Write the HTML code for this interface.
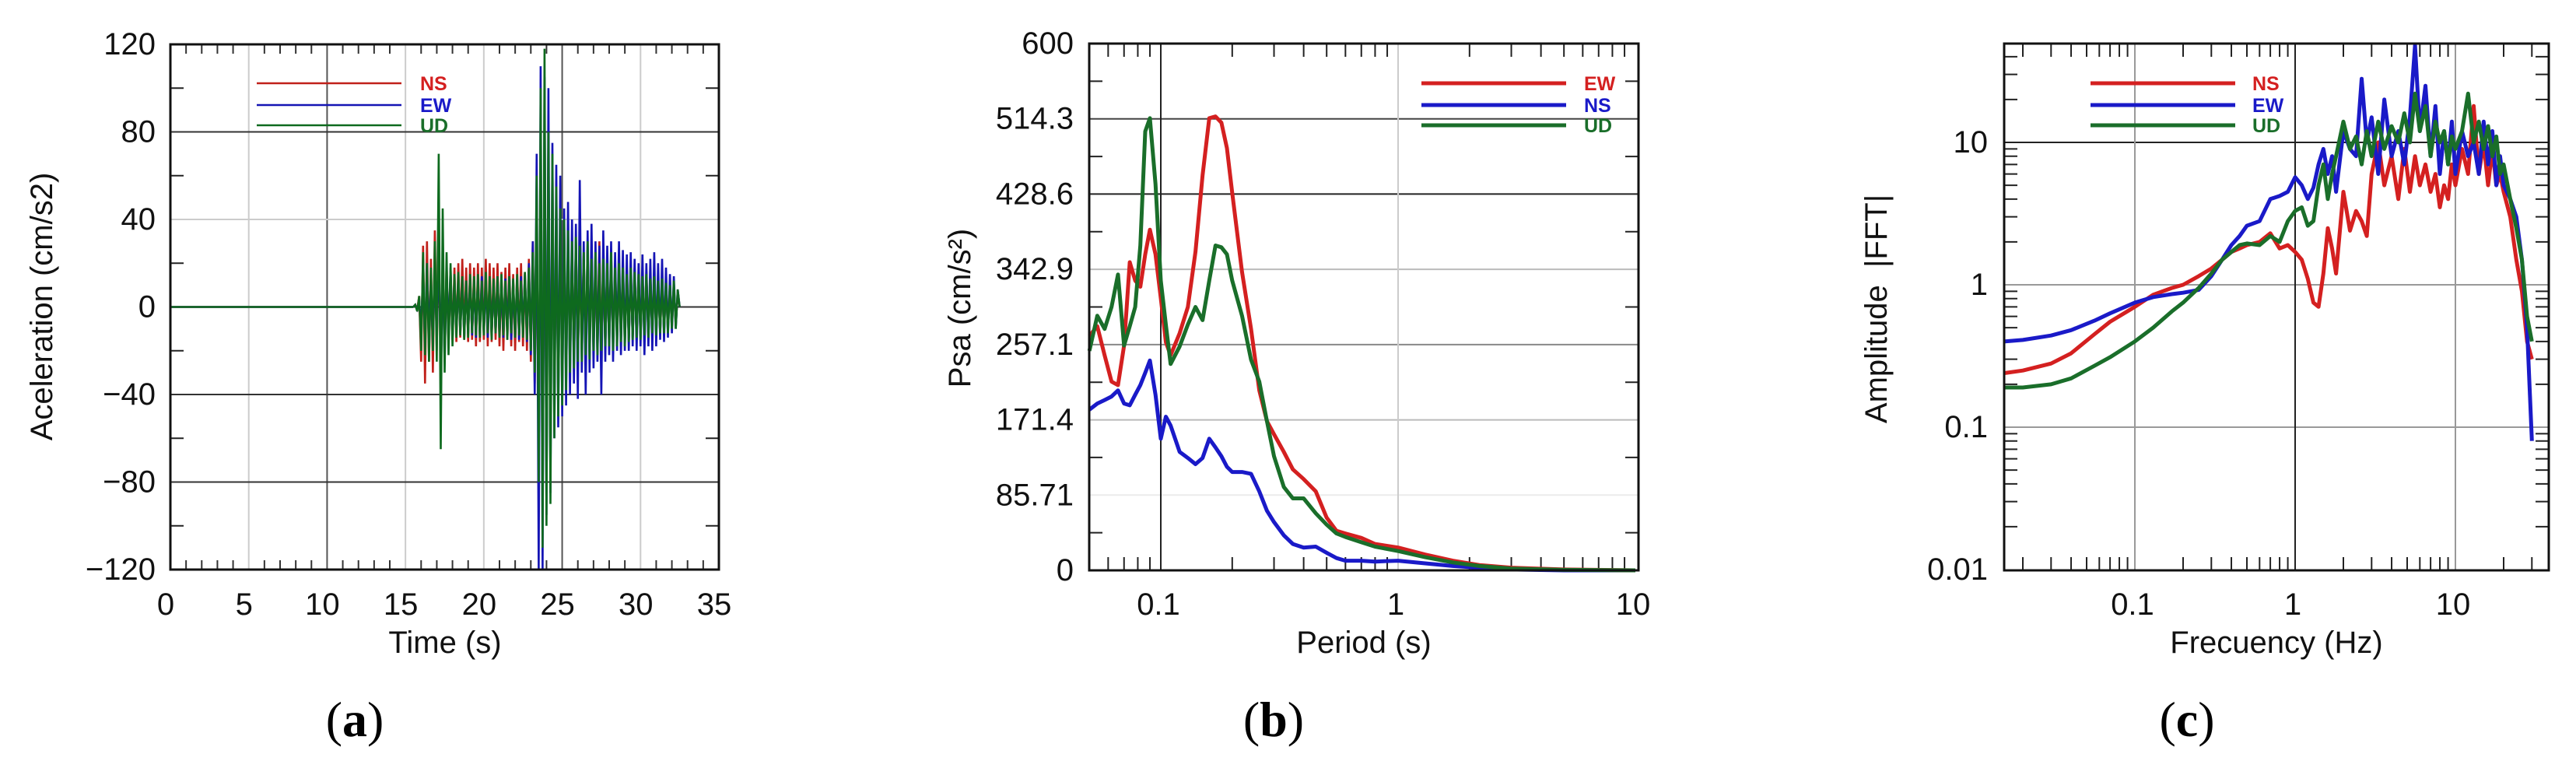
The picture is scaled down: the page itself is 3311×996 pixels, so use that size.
<!DOCTYPE html>
<html><head><meta charset="utf-8">
<style>
html,body{margin:0;padding:0;background:#fff;}
svg{display:block;font-family:"Liberation Sans",sans-serif;}
</style></head>
<body>
<svg id="fig" width="3311" height="996" viewBox="0 0 3311 996" xmlns="http://www.w3.org/2000/svg"></svg>
<script>
// ---------- Panel (a) data: acceleration time histories ----------
const aT0 = 15.5, aDt = 0.125;
const aNS = [0,1,-1,5,-25,28,-35,30,-25,22,
-30,35,-20,28,-25,18,-22,20,-18,16,
-15,18,-16,20,-14,22,-15,18,-16,20,
-15,18,-18,20,-16,18,-15,22,-18,20,
-16,18,-15,20,-18,16,-20,18,-15,20,
-18,15,-20,18,-16,20,-18,16,-20,22,
-25,30,-35,45,-60,60,-70,55,-50,45,
-40,35,-35,30,-30,28,-25,30,-25,28,
-20,20,-22,30,-25,22,-20,25,-22,18,
-15,25,-20,18,-15,30,-25,22,-18,20,
-15,22,-18,20,-15,18,-16,20,-15,18,
-15,16,-14,18,-15,16,-14,15,-13,16,
-14,15,-12,14,-12,13,-12,12,-11,12,
-10,11,-10,10,-8,6,0];
const aEW = [0,1,-1,3,-10,15,-18,20,-15,12,
-18,20,-15,25,-20,18,-25,15,-12,18,
-15,12,-12,14,-12,13,-14,12,-12,14,
-13,12,-14,13,-12,14,-12,13,-14,12,
-13,12,-12,14,-13,12,-14,13,-12,14,
-15,12,-14,13,-15,14,-12,15,-16,20,
-22,30,-40,70,-120,110,-120,105,-95,100,
-85,75,-60,65,-55,60,-50,45,-45,48,
-40,40,-35,38,-42,58,-30,30,-40,35,
-30,38,-28,30,-25,28,-40,35,-25,28,
-22,30,-25,25,-20,30,-22,26,-20,24,
-20,25,-18,22,-20,20,-18,24,-22,20,
-18,22,-20,25,-18,20,-15,22,-16,18,
-14,15,-12,14,-10,8,0];
const aUD = [0,1,-2,5,-20,25,-22,20,-25,18,
-20,30,-25,70,-65,45,-30,25,-22,20,
-18,15,-14,16,-13,14,-15,12,-14,15,
-12,14,-13,15,-14,12,-13,16,-12,14,
-15,13,-12,14,-14,15,-13,12,-15,14,
-12,13,-14,15,-13,12,-14,16,-15,18,
-20,25,-30,60,-80,100,-110,118,-100,80,
-90,70,-60,55,-50,45,-45,40,-38,35,
-30,30,-28,32,-25,28,-25,25,-22,30,
-24,22,-20,25,-22,20,-20,22,-18,20,
-18,25,-20,18,-18,20,-16,18,-18,15,
-16,18,-15,16,-14,15,-15,14,-13,15,
-14,13,-12,14,-13,12,-12,13,-12,11,
-12,10,-10,12,-10,8,0];
const aXTicks = [0,5,10,15,20,25,30,35];
const aYTicks = [-120,-80,-40,0,40,80,120];

// ---------- Panel (b) data: response spectra ----------
const bPeriod = [0.05,0.054,0.058,0.062,0.066,0.07,0.074,0.078,0.082,0.086,0.09,0.095,0.1,0.105,0.11,0.12,0.13,0.14,0.15,0.16,0.17,0.18,0.19,0.2,0.22,0.24,0.26,0.28,0.3,0.33,0.36,0.4,0.45,0.5,0.55,0.6,0.7,0.8,1,1.3,1.7,2.2,3,5,10];
const bEW = [267,278,245,215,211,256,351,330,323,360,388,360,310,260,245,270,300,363,450,515,517,510,481,430,340,275,205,170,155,135,115,104,90,60,45,42,37,30,26,18,11,6,3,1,0];
const bNS = [183,190,194,198,205,190,188,200,211,225,239,200,150,175,165,135,128,121,128,150,140,130,118,112,112,110,90,68,55,40,30,26,27,20,14,11,11,10,11,8,5,3,1,0,0];
const bUD = [250,290,275,300,337,256,278,300,370,500,515,440,330,280,235,255,280,300,285,330,370,368,360,330,290,240,215,170,130,95,82,82,65,52,42,38,32,27,22,15,9,5,2,0.5,0];
const bYTicks = [0,85.71,171.4,257.1,342.9,428.6,514.3,600];
const bXTicks = [0.1,1,10];

// ---------- Panel (c) data: Fourier amplitude spectra ----------
const cFreq = [0.0155,0.02,0.03,0.04,0.056,0.07,0.1,0.13,0.17,0.2,0.25,0.3,0.35,0.4,0.45,0.5,0.6,0.7,0.8,0.9,1.0,1.1,1.2,1.3,1.4,1.5,1.6,1.7,1.8,2.0,2.2,2.4,2.6,2.8,3.0,3.3,3.6,4.0,4.4,4.8,5.2,5.6,6.0,6.5,7,7.5,8,8.5,9,9.5,10,11,12,13,14,15,16,17,18,19,20,22,24,26,28,30];
const cNS = [0.24,0.25,0.28,0.33,0.45,0.55,0.7,0.85,0.95,1.0,1.15,1.3,1.5,1.7,1.8,1.9,2.0,2.3,1.8,1.9,1.7,1.5,1.1,0.75,0.7,1.2,2.5,1.8,1.2,4.5,2.4,3.3,2.8,2.2,6,10,5,8,4,9,4.5,8,5,7,4.5,6,3.5,5,4,7,5,9,6,18,6,10,5,9,5,6,4.5,3,1.5,0.9,0.4,0.3];
const cEW = [0.40,0.41,0.44,0.48,0.56,0.63,0.75,0.82,0.86,0.88,0.92,1.15,1.5,1.9,2.2,2.6,2.8,4.0,4.2,4.5,5.7,5.0,4.0,4.8,7,9,6,8,4.5,12,9,8,28,10,15,6,20,8,12,7,15,48,12,25,8,18,6,12,7,14,6,12,8,10,6,14,7,12,5,8,5,4,3,1.5,0.5,0.08];
const cUD = [0.19,0.19,0.2,0.22,0.27,0.31,0.4,0.5,0.65,0.75,0.95,1.2,1.5,1.7,1.9,1.95,1.9,2.2,2.0,2.8,3.3,3.5,2.6,2.8,5,7,4,6,8,14,9,11,7,12,8,14,9,13,10,16,10,22,12,18,8,14,10,12,7,11,9,12,22,10,14,9,13,8,11,6,7,4,2.5,1.5,0.6,0.4];
const cYTicks = [0.01,0.1,1,10];
const cXTicks = [0.1,1,10];

const NS_SVG = "http://www.w3.org/2000/svg";
const svg = document.getElementById('fig');
function el(tag, attrs, parent){
  const e = document.createElementNS(NS_SVG, tag);
  for (const k in attrs) e.setAttribute(k, attrs[k]);
  (parent||svg).appendChild(e);
  return e;
}
const RED='#d42020', BLUE='#1a1ac8', GREEN='#1a6e2a';

// ================= Panel A =================
const A = {l:219, r:924, t:57, b:732};
const ax = v => A.l + (v-0)/35*(A.r-A.l);
const ay = v => A.b - (v+120)/240*(A.b-A.t);
const gA = el('g',{});  
aXTicks.forEach(v=>{ if(v>0&&v<35){ const g=el('line',{x1:ax(v),x2:ax(v),y1:A.t,y2:A.b,stroke:(v==10||v==25)?'#555':'#ccc','stroke-width':2},gA);   }});
aYTicks.forEach(v=>{ if(v>-120&&v<120){ const g=el('line',{x1:A.l,x2:A.r,y1:ay(v),y2:ay(v),stroke:(v==40)?'#ccc':'#333','stroke-width':2},gA);   }});
for(let v=1; v<35; v++){ if(v%5){ el('line',{x1:ax(v),x2:ax(v),y1:A.t,y2:A.t+12,stroke:'#333','stroke-width':2},gA); el('line',{x1:ax(v),x2:ax(v),y1:A.b,y2:A.b-12,stroke:'#333','stroke-width':2},gA);} }
for(let v=-100; v<120; v+=20){ if(v%40){ el('line',{x1:A.l,x2:A.l+17,y1:ay(v),y2:ay(v),stroke:'#222','stroke-width':2},gA); el('line',{x1:A.r,x2:A.r-17,y1:ay(v),y2:ay(v),stroke:'#222','stroke-width':2},gA);} }
function seriesA(arr,color,name){
  let d = `M${ax(0)},${ay(0)} L${ax(aT0)},${ay(0)}`;
  arr.forEach((v,i)=>{ d += ` L${ax(aT0+i*aDt).toFixed(1)},${ay(v).toFixed(1)}`; });
  const p = el('path',{d:d,fill:'none',stroke:color,'stroke-width':2.6,'stroke-linejoin':'miter'},gA);
   
}
seriesA(aNS,'#c0201a','series-ns');
seriesA(aEW,'#1414b4','series-ew');
seriesA(aUD,'#0e6a1e','series-ud');
el('rect',{x:A.l,y:A.t,width:A.r-A.l,height:A.b-A.t,fill:'none',stroke:'#111','stroke-width':3},gA);
aXTicks.forEach(v=>{ const t=el('text',{x:ax(v)-6,y:790,'font-size':40,'text-anchor':'middle',fill:'#111'},gA); t.textContent=v;   });
aYTicks.forEach(v=>{ const t=el('text',{x:200,y:ay(v)+13,'font-size':40,'text-anchor':'end',fill:'#111'},gA); t.textContent=(v<0?'\u2212'+(-v):v);   });

// ================= Panel B =================
const B = {l:1400, r:2106, t:56, b:733};
const bx = v => 1492 + (Math.log10(v)+1)*305;
const by = v => B.b - v/600*(B.b-B.t);
const gB = el('g',{});  
const bGridCol = {85.71:'#ececec',171.4:'#bbb',257.1:'#888',342.9:'#bbb',428.6:'#222',514.3:'#444'};
bYTicks.forEach(v=>{ if(v>0&&v<600){ const g=el('line',{x1:B.l,x2:B.r,y1:by(v),y2:by(v),stroke:bGridCol[v],'stroke-width':2},gB);   }});
[[0.1,'#222'],[1,'#ccc']].forEach(([v,c])=>{ const g=el('line',{x1:bx(v),x2:bx(v),y1:B.t,y2:B.b,stroke:c,'stroke-width':2},gB);   });
for(let k=0;k<7;k++){ const v=42.857+85.714*k; el('line',{x1:B.l,x2:B.l+17,y1:by(v),y2:by(v),stroke:'#222','stroke-width':2},gB); el('line',{x1:B.r,x2:B.r-17,y1:by(v),y2:by(v),stroke:'#222','stroke-width':2},gB); }
[0.01,0.1,1].forEach(dec=>{ for(let m=2;m<=9;m++){ const v=dec*m; const x=bx(v); if(x>B.l+2&&x<B.r-2){ el('line',{x1:x,x2:x,y1:B.t,y2:B.t+17,stroke:'#222','stroke-width':2},gB); el('line',{x1:x,x2:x,y1:B.b,y2:B.b-17,stroke:'#222','stroke-width':2},gB);} } });
function seriesB(arr,color,name){
  const d = arr.map((v,i)=>(i?'L':'M')+bx(bPeriod[i]).toFixed(1)+','+by(v).toFixed(1)).join(' ');
  const p = el('path',{d:d,fill:'none',stroke:color,'stroke-width':5,'stroke-linejoin':'round'},gB);
   
}
seriesB(bNS,BLUE,'series-ns');
seriesB(bEW,RED,'series-ew');
seriesB(bUD,GREEN,'series-ud');
el('rect',{x:B.l,y:B.t,width:B.r-B.l,height:B.b-B.t,fill:'none',stroke:'#111','stroke-width':3},gB);
bXTicks.forEach(v=>{ const t=el('text',{x:bx(v)-3,y:790,'font-size':40,'text-anchor':'middle',fill:'#111'},gB); t.textContent=v;   });
bYTicks.forEach(v=>{ const t=el('text',{x:1380,y:by(v)+13,'font-size':40,'text-anchor':'end',fill:'#111'},gB); t.textContent=v;   });

// ================= Panel C =================
const C = {l:2576, r:3276, t:56, b:733};
const cx = v => 2950 + Math.log10(v)*206;
const cy = v => 366 - Math.log10(v)*183;
const gC = el('g',{});  
[[10,'#222'],[1,'#999'],[0.1,'#999']].forEach(([v,c])=>{ const g=el('line',{x1:C.l,x2:C.r,y1:cy(v),y2:cy(v),stroke:c,'stroke-width':2},gC);   });
[[0.1,'#999'],[1,'#222'],[10,'#999']].forEach(([v,c])=>{ const g=el('line',{x1:cx(v),x2:cx(v),y1:C.t,y2:C.b,stroke:c,'stroke-width':2},gC);   });
[0.01,0.1,1,10].forEach(dec=>{ for(let m=2;m<=9;m++){ const v=dec*m;
  const x=cx(v); if(x>C.l+2&&x<C.r-2){ el('line',{x1:x,x2:x,y1:C.t,y2:C.t+17,stroke:'#222','stroke-width':2},gC); el('line',{x1:x,x2:x,y1:C.b,y2:C.b-17,stroke:'#222','stroke-width':2},gC);}
  const y=cy(v); if(y>C.t+2&&y<C.b-2){ el('line',{x1:C.l,x2:C.l+17,y1:y,y2:y,stroke:'#222','stroke-width':2},gC); el('line',{x1:C.r,x2:C.r-17,y1:y,y2:y,stroke:'#222','stroke-width':2},gC);} } });
function seriesC(arr,color,name){
  const d = arr.map((v,i)=>(i?'L':'M')+cx(cFreq[i]).toFixed(1)+','+cy(v).toFixed(1)).join(' ');
  const p = el('path',{d:d,fill:'none',stroke:color,'stroke-width':5,'stroke-linejoin':'round'},gC);
   
}
seriesC(cNS,RED,'series-ns');
seriesC(cEW,BLUE,'series-ew');
seriesC(cUD,GREEN,'series-ud');
el('rect',{x:C.l,y:C.t,width:C.r-C.l,height:C.b-C.t,fill:'none',stroke:'#111','stroke-width':3},gC);
cXTicks.forEach(v=>{ const t=el('text',{x:cx(v)-3,y:790,'font-size':40,'text-anchor':'middle',fill:'#111'},gC); t.textContent=v;   });
cYTicks.forEach(v=>{ const t=el('text',{x:2555,y:cy(v)+13,'font-size':40,'text-anchor':'end',fill:'#111'},gC); t.textContent=v;   });
</script>

<svg width="3311" height="996" style="position:absolute;left:0;top:0;font-family:'Liberation Sans',sans-serif;" xmlns="http://www.w3.org/2000/svg">
  <text x="572" y="839" font-size="40" text-anchor="middle" fill="#111">Time (s)</text>
  <text transform="translate(67,394) rotate(-90)" font-size="40" text-anchor="middle" fill="#111">Aceleration (cm/s2)</text>
  <text x="1753" y="839" font-size="40" text-anchor="middle" fill="#111">Period (s)</text>
  <text transform="translate(1247,396) rotate(-90)" font-size="40" text-anchor="middle" fill="#111">Psa (cm/s²)</text>
  <text x="2926" y="839" font-size="40" text-anchor="middle" fill="#111">Frecuency (Hz)</text>
  <text transform="translate(2425,397) rotate(-90)" font-size="40" text-anchor="middle" fill="#111" xml:space="preserve">Amplitude  |FFT|</text>

  <g font-size="25" font-weight="bold">
    <line x1="330" x2="516" y1="107" y2="107" stroke="#c0201a" stroke-width="2.5"/>
    <text x="540" y="116" fill="#d42020">NS</text>
    <line x1="330" x2="516" y1="135" y2="135" stroke="#1414b4" stroke-width="2.5"/>
    <text x="540" y="144" fill="#1a1ac8">EW</text>
    <line x1="330" x2="516" y1="161" y2="161" stroke="#0e6a1e" stroke-width="2.5"/>
    <text x="540" y="170" fill="#1a6e2a">UD</text>
  </g>
  <g font-size="25" font-weight="bold">
    <line x1="1827" x2="2013" y1="107" y2="107" stroke="#d42020" stroke-width="5"/>
    <text x="2036" y="116" fill="#d42020">EW</text>
    <line x1="1827" x2="2013" y1="135" y2="135" stroke="#1a1ac8" stroke-width="5"/>
    <text x="2036" y="144" fill="#1a1ac8">NS</text>
    <line x1="1827" x2="2013" y1="161" y2="161" stroke="#1a6e2a" stroke-width="5"/>
    <text x="2036" y="170" fill="#1a6e2a">UD</text>
  </g>
  <g font-size="25" font-weight="bold">
    <line x1="2687" x2="2873" y1="107" y2="107" stroke="#d42020" stroke-width="5"/>
    <text x="2895" y="116" fill="#d42020">NS</text>
    <line x1="2687" x2="2873" y1="135" y2="135" stroke="#1a1ac8" stroke-width="5"/>
    <text x="2895" y="144" fill="#1a1ac8">EW</text>
    <line x1="2687" x2="2873" y1="161" y2="161" stroke="#1a6e2a" stroke-width="5"/>
    <text x="2895" y="170" fill="#1a6e2a">UD</text>
  </g>

  <g font-family="'Liberation Serif',serif" font-size="64" text-anchor="middle" fill="#000">
    <text x="456" y="946">(<tspan font-weight="bold">a</tspan>)</text>
    <text x="1637" y="946">(<tspan font-weight="bold">b</tspan>)</text>
    <text x="2811" y="946">(<tspan font-weight="bold">c</tspan>)</text>
  </g>
</svg>
</body></html>
